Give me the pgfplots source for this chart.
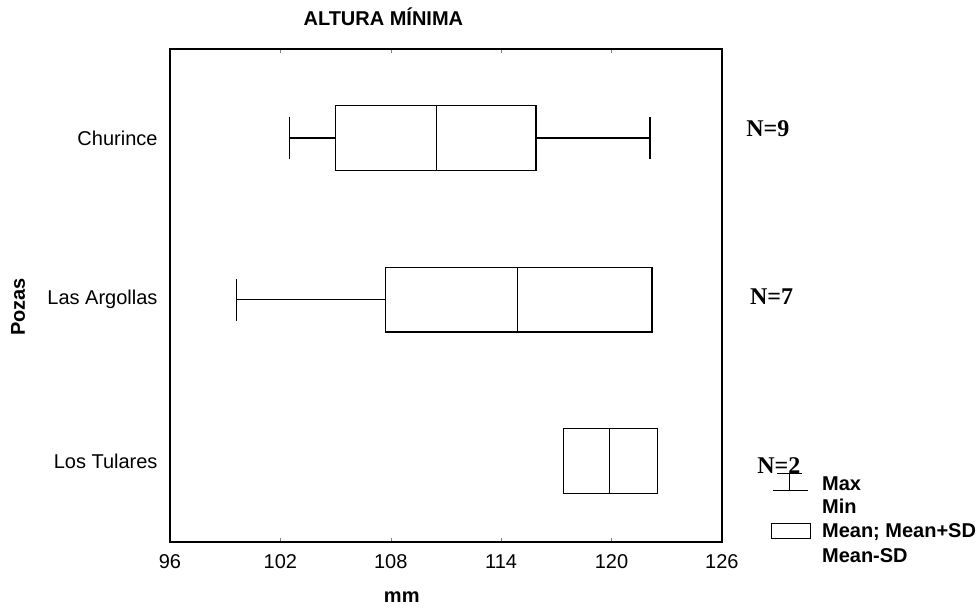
\documentclass[border=0pt]{standalone}
\usepackage{fontspec}
\setmainfont{Liberation Sans}
\newfontfamily\nfont{Liberation Serif}
\usepackage{pgfplots}
\pgfplotsset{compat=1.18}
\usepgfplotslibrary{statistics}

\begin{document}
\fontsize{10}{12}\selectfont
\begin{tikzpicture}
  \begin{axis}[
    scale only axis,
    width=276pt, height=246.5pt,
    xmin=96, xmax=126, ymin=-0.5, ymax=2.55,
    xtick={96,102,...,126},
    ytick={0,1,2},
    yticklabels={Los Tulares,Las Argollas,Churince},
    ytick style={draw=none},
    tick align=inside,
    major tick length=2pt,
    axis line style={line width=1pt},
    xticklabel style={yshift=-2.6pt},
    yticklabel style={xshift=-2.7pt},
    /pgf/number format/assume math mode=true,
    boxplot/draw direction=x,
    clip=false]

    % Churince
    \addplot[black, line width=0.6pt, boxplot prepared={draw position=2,
      lower whisker=102.5, lower quartile=105.0, median=110.5,
      upper quartile=115.9, upper whisker=122.1,
      box extend=0.40, whisker extend=0.26}] coordinates {};
    % Las Argollas
    \addplot[black, line width=0.6pt, boxplot prepared={draw position=1,
      lower whisker=99.6, lower quartile=107.7, median=114.9,
      upper quartile=122.2, upper whisker=122.2,
      box extend=0.40, whisker extend=0.26}] coordinates {};
    % Los Tulares
    \addplot[black, line width=0.6pt, boxplot prepared={draw position=0,
      lower whisker=117.4, lower quartile=117.4, median=119.9,
      upper quartile=122.5, upper whisker=122.5,
      box extend=0.40, whisker extend=0.26}] coordinates {};

    % texts around the frame
    \node[font=\bfseries] at (axis cs:107.6,2.749) {ALTURA MÍNIMA};
    \node[font=\bfseries] at (axis cs:108.6,-0.842) {mm};
    \node[font=\bfseries, rotate=90] at (axis cs:87.74,0.954) {Pozas};
    \node[font=\nfont\bfseries\fontsize{12}{14}\selectfont] at (axis cs:128.5,2.06) {N=9};
    \node[font=\nfont\bfseries\fontsize{12}{14}\selectfont] at (axis cs:128.7,1.02) {N=7};
    \node[font=\nfont\bfseries\fontsize{12}{14}\selectfont] at (axis cs:129.1,-0.028) {N=2};

    % legend
    \draw[line width=0.6pt] (axis cs:129.7,-0.074) -- (axis cs:129.7,-0.18);
    \draw[line width=0.6pt] (axis cs:129.0,-0.074) -- (axis cs:130.35,-0.074);
    \draw[line width=0.6pt] (axis cs:128.77,-0.18) -- (axis cs:130.67,-0.18);
    \draw[line width=0.6pt] (axis cs:128.7,-0.384) rectangle (axis cs:130.8,-0.477);
    \node[font=\bfseries, anchor=west, inner sep=0pt] at (axis cs:131.43,-0.142) {Max};
    \node[font=\bfseries, anchor=west, inner sep=0pt] at (axis cs:131.43,-0.279) {Min};
    \node[font=\bfseries, anchor=west, inner sep=0pt] at (axis cs:131.43,-0.44) {Mean; Mean+SD};
    \node[font=\bfseries, anchor=west, inner sep=0pt] at (axis cs:131.43,-0.582) {Mean-SD};

    % page size like the reference
    \path (axis cs:86.76,2.854) rectangle (axis cs:139.8,-0.923);
  \end{axis}
\end{tikzpicture}
\end{document}
